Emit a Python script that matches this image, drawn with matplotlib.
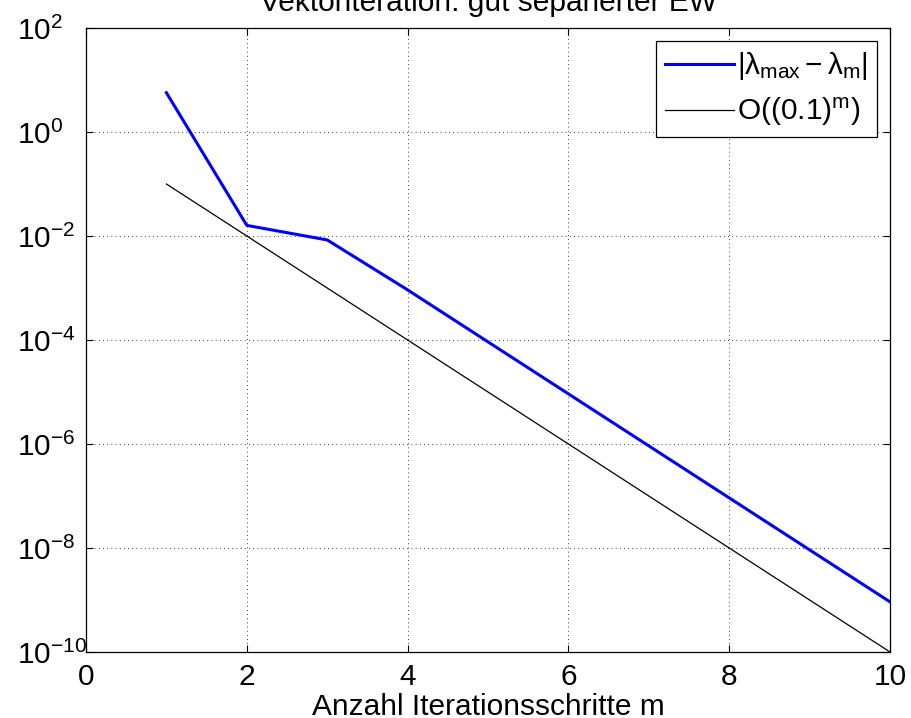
import numpy as np
import matplotlib
matplotlib.use("Agg")
import matplotlib.pyplot as plt
from matplotlib.ticker import LogLocator, NullLocator

plt.rcParams['font.family'] = ['Liberation Sans', 'DejaVu Sans']
plt.rcParams['mathtext.fontset'] = 'custom'
plt.rcParams['mathtext.rm'] = 'Liberation Sans'
plt.rcParams['mathtext.it'] = 'Liberation Sans'

# Iterationsschritte
m = [1, 2, 3, 4, 5, 6, 7, 8, 9, 10]
# Fehler |lambda_max - lambda_m|
err = [5.7, 1.6e-2, 8.4e-3, 9.2e-4, 9.2e-5, 9.2e-6, 9.2e-7, 9.2e-8, 9.2e-9, 9.2e-10]
# Referenz O((0.1)^m)
ref = [1e-1, 1e-2, 1e-3, 1e-4, 1e-5, 1e-6, 1e-7, 1e-8, 1e-9, 1e-10]

fs = 21.5

fig = plt.figure(figsize=(9.11, 7.18), dpi=100)
ax = fig.add_axes([0.0944, 0.0919, 0.8826, 0.8691])

ax.semilogy(m, err, color='#0000ff', lw=2.2, label=r'$|\lambda_{\mathrm{max}} - \lambda_{\mathrm{m}}|$')
ax.semilogy(m, ref, color='black', lw=0.9, label=r'O((0.1)$^{\mathrm{m}}$)')

ax.set_xlim(0, 10)
ax.set_ylim(1e-10, 1e2)
ax.set_xticks([0, 2, 4, 6, 8, 10])
ax.yaxis.set_major_locator(LogLocator(base=100.0, numticks=20))
ax.yaxis.set_minor_locator(NullLocator())

ax.grid(True, which='major', linestyle=(0, (1, 4)), color='black', lw=0.6)
ax.tick_params(direction='in', labelsize=fs, length=5, top=True, right=True)
ax.tick_params(axis='x', pad=8)
ax.tick_params(axis='y', pad=50)
for lbl in ax.get_yticklabels():
    lbl.set_horizontalalignment('left')
for s in ax.spines.values():
    s.set_linewidth(0.9)

# title sits partly above the figure edge, as in the original export
ax.set_title('Vektoriteration: gut separierter EW', fontsize=fs, pad=12)
ax.set_xlabel('Anzahl Iterationsschritte m', fontsize=fs, labelpad=1)

leg = ax.legend(loc='upper right', fontsize=fs, fancybox=False, edgecolor='black',
                framealpha=1, handlelength=2.3, borderpad=0.3, labelspacing=0.45,
                handletextpad=0.1, borderaxespad=0.45)
leg.get_frame().set_linewidth(0.9)

fig.savefig('out.png', dpi=100)
